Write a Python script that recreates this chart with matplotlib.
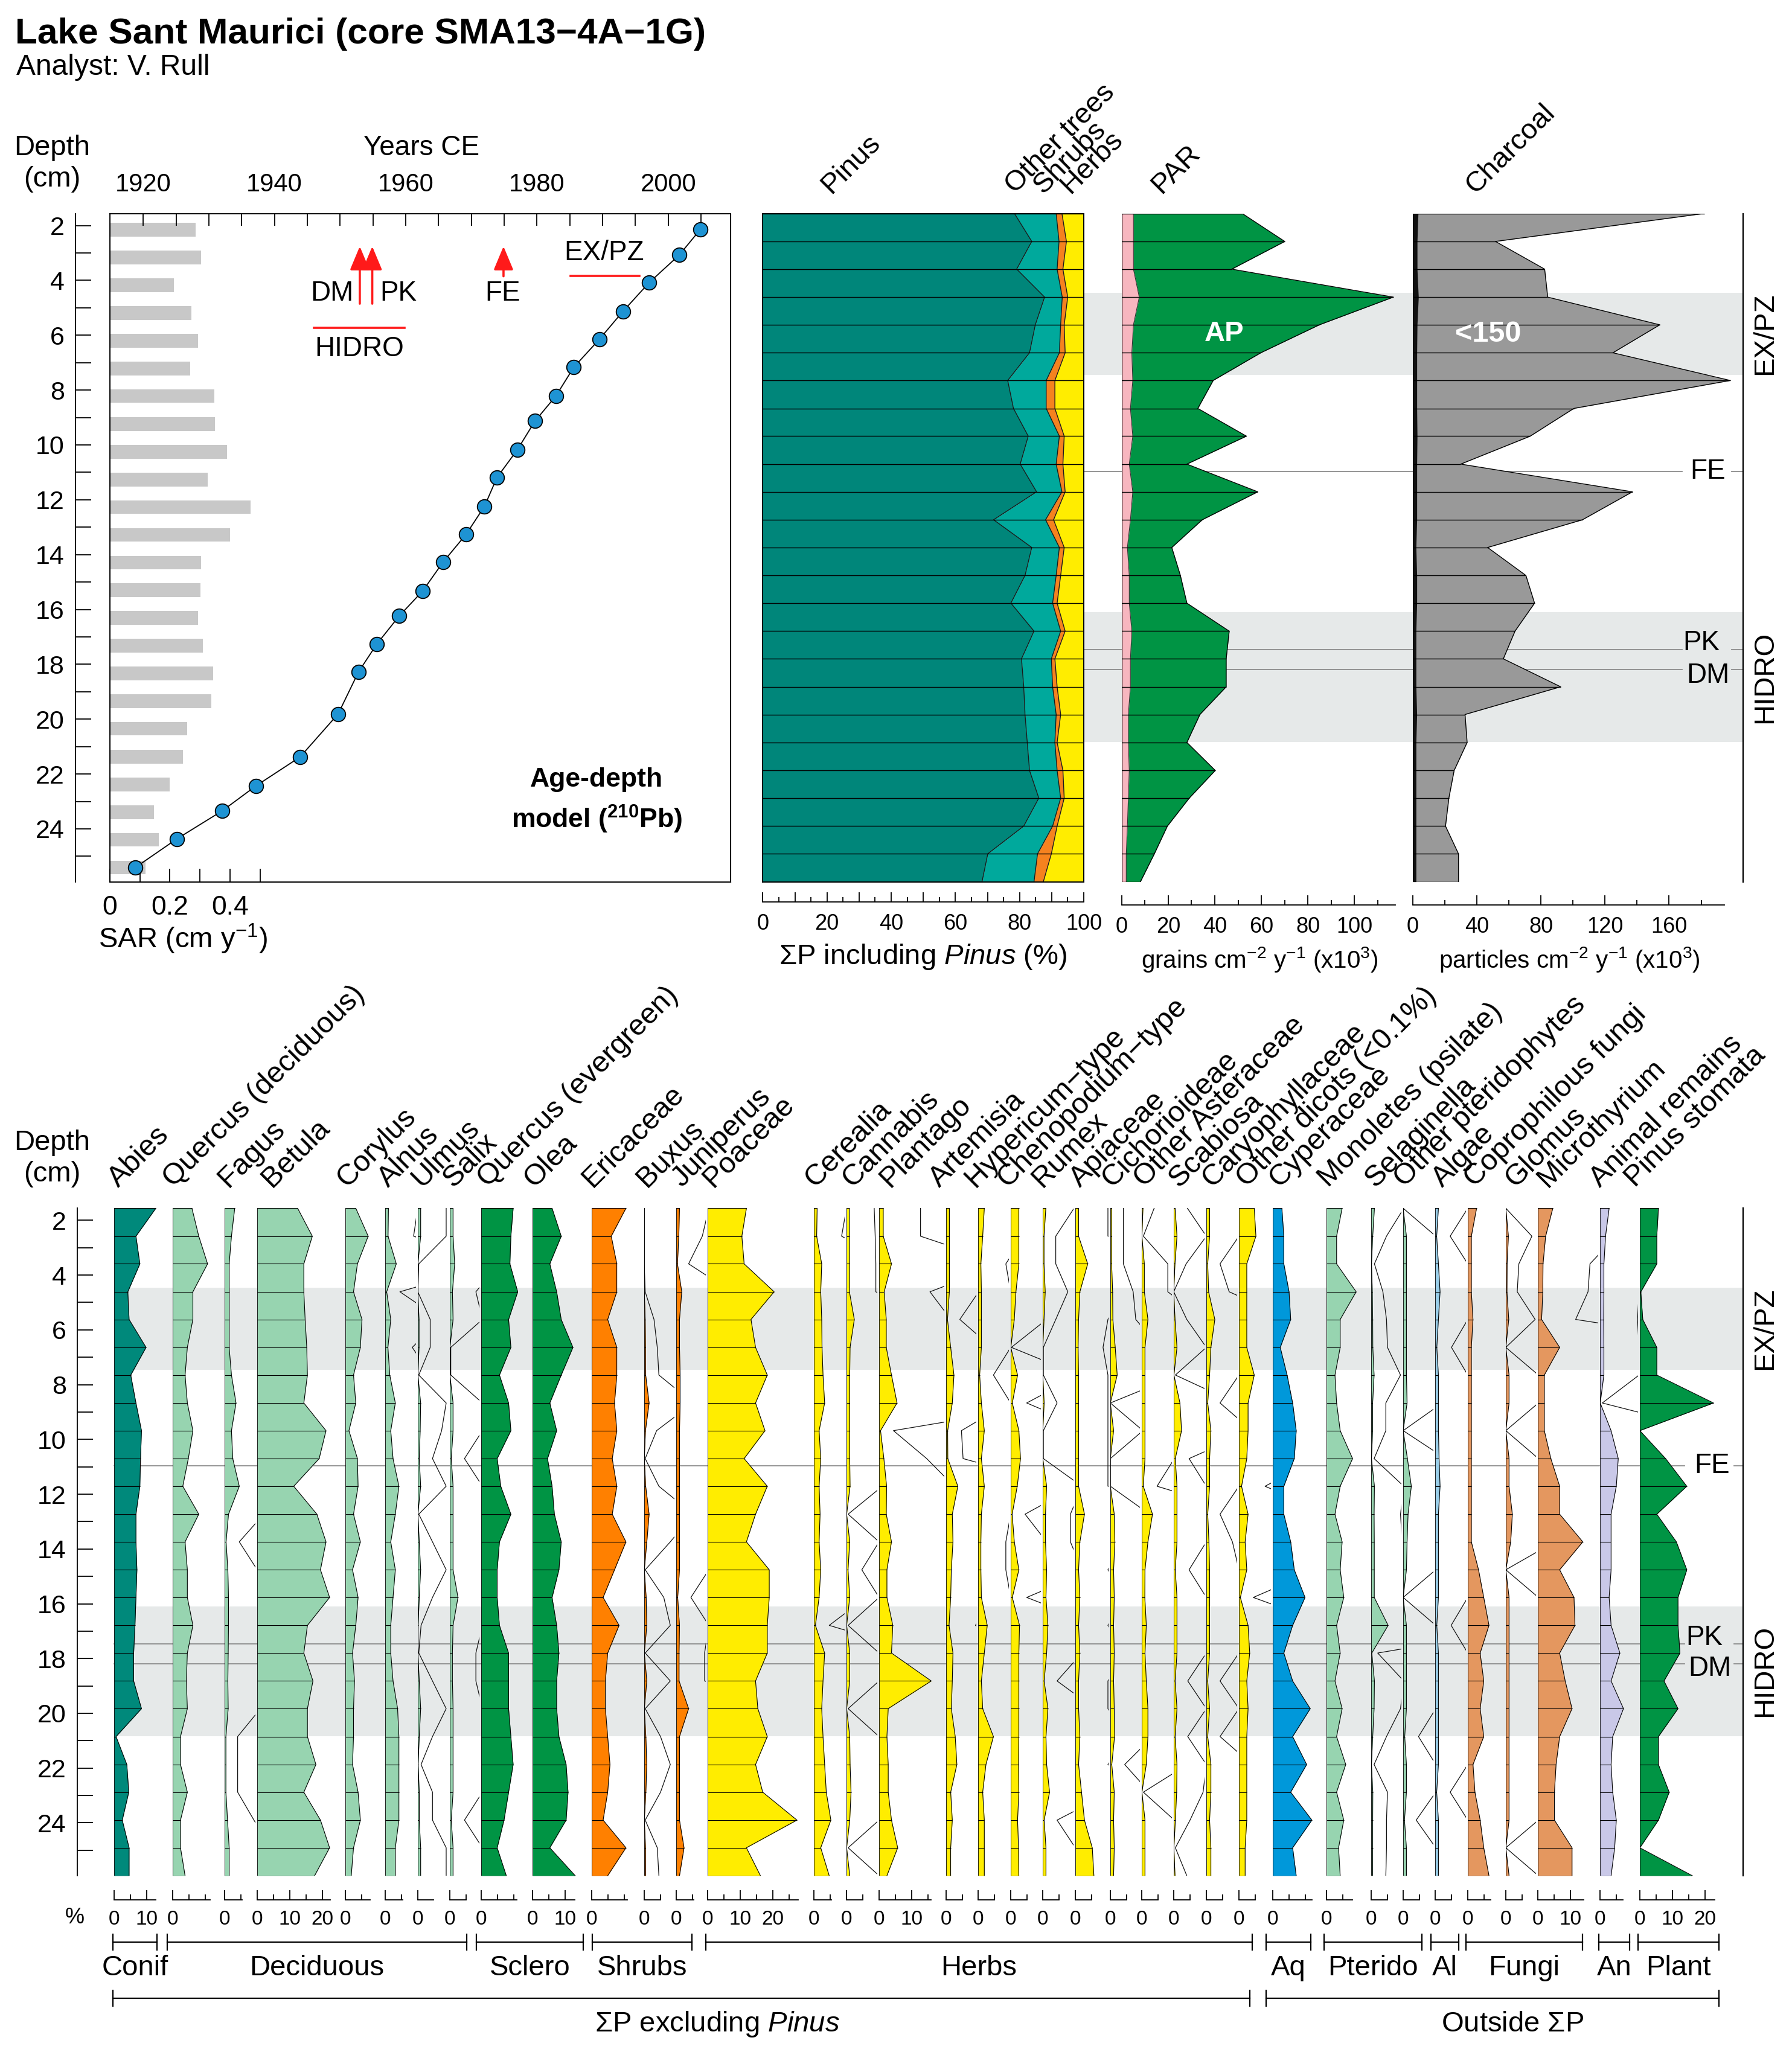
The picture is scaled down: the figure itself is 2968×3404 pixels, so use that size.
import numpy as np
import matplotlib
matplotlib.use("Agg")
import matplotlib.pyplot as plt

plt.rcParams["font.family"] = ["Liberation Sans", "DejaVu Sans"]
plt.rcParams["mathtext.fontset"] = "custom"
plt.rcParams["mathtext.rm"] = "Liberation Sans"
plt.rcParams["mathtext.it"] = "Liberation Sans:italic"
plt.rcParams["mathtext.bf"] = "Liberation Sans:bold"

# ============================== DATA ==============================
sample_depth = [1.56, 2.58, 3.59, 4.61, 5.62, 6.64, 7.65, 8.67, 9.68, 10.70,
                11.71, 12.73, 13.74, 14.76, 15.77, 16.79, 17.80, 18.82, 19.83,
                20.85, 21.87, 22.88, 23.90, 24.91, 25.93]

# age-depth model (210Pb)
dated_depth = [2.14, 3.07, 4.08, 5.13, 6.15, 7.17, 8.21, 9.13, 10.18, 11.19, 12.24,
               13.26, 14.27, 15.32, 16.24, 17.26, 18.28, 19.81, 21.38, 22.43, 23.35,
               24.37, 25.41]
dated_year = [2004.9, 2001.7, 1997.1, 1993.1, 1989.5, 1985.6, 1982.9, 1979.7, 1977.0,
              1973.9, 1972.0, 1969.2, 1965.7, 1962.6, 1959.0, 1955.6, 1952.8, 1949.7,
              1943.9, 1937.2, 1932.0, 1925.1, 1918.8]
sar_depth = [2.16, 3.17, 4.18, 5.19, 6.20, 7.21, 8.22, 9.24, 10.25, 11.26, 12.27, 13.28,
             14.29, 15.30, 16.31, 17.32, 18.33, 19.34, 20.35, 21.37, 22.38, 23.39, 24.40, 25.41]
sar = [0.285, 0.304, 0.214, 0.272, 0.294, 0.267, 0.347, 0.349, 0.389, 0.326, 0.469, 0.400,
       0.304, 0.301, 0.294, 0.309, 0.344, 0.338, 0.258, 0.243, 0.200, 0.146, 0.162, 0.118]

event_names = ["FE", "PK", "DM"]
event_year = [1974.9, 1954.9, 1953.0]
event_depth = [10.96, 17.47, 18.20]
hidro_years = [1946.0, 1959.8]
expz_years = [1985.1, 1995.6]
zone_names = ["EX/PZ", "HIDRO"]
zone_top = [4.45, 16.10]
zone_bottom = [7.45, 20.83]

# Sum P including Pinus (%)
pinus_pct = [78.4, 83.8, 79.1, 87.8, 84.9, 83.1, 76.3, 78.1, 82.7, 80.2, 85.3, 71.9, 83.8,
             81.7, 77.3, 84.5, 80.6, 81.3, 81.7, 82.4, 83.1, 86.0, 81.3, 70.1, 68.3]
other_trees_pct = [13.0, 8.5, 12.6, 5.5, 7.9, 9.3, 12.0, 10.2, 9.7, 11.2, 7.9, 16.2, 8.6,
                   9.7, 13.0, 8.3, 9.3, 9.0, 9.7, 8.6, 8.6, 6.8, 9.0, 15.5, 16.2]
shrubs_pct = [1.8, 2.3, 1.8, 1.7, 1.1, 1.8, 2.7, 2.7, 1.5, 2.1, 1.0, 2.5, 1.5, 1.4, 1.4,
              1.4, 1.1, 1.4, 1.4, 0.7, 1.8, 1.1, 1.4, 4.3, 2.9]
herbs_pct = [6.8, 5.4, 6.5, 5.0, 6.1, 5.8, 9.0, 9.0, 6.1, 6.5, 5.8, 9.4, 6.1, 7.2, 8.3,
             5.8, 9.0, 8.3, 7.2, 8.3, 6.5, 6.1, 8.3, 10.1, 12.6]

# PAR (grains cm-2 y-1 x10^3)
par_other = [5.0, 5.0, 5.0, 7.5, 5.0, 4.3, 4.7, 3.7, 4.7, 3.2, 4.7, 3.7, 2.4, 3.2, 3.2,
             4.3, 3.7, 3.7, 2.8, 2.8, 3.2, 2.8, 2.4, 1.9, 1.9]
par_ap = [46.8, 65.1, 42.3, 109.3, 80.0, 55.5, 34.6, 29.0, 48.9, 24.8, 53.8, 30.9, 19.1,
          22.0, 24.8, 41.9, 41.2, 41.2, 30.8, 25.2, 37.0, 26.2, 17.2, 12.1, 6.1]

# Charcoal (particles cm-2 y-1 x10^3)
charcoal_lt150 = [181.9, 51.6, 82.3, 84.2, 154.2, 124.9, 198.2, 100.5, 73.3, 29.9, 137.1,
                  105.9, 46.7, 70.6, 76.0, 63.8, 56.5, 92.3, 32.6, 33.9, 25.8, 22.5, 20.4,
                  28.5, 28.5]
charcoal_gt150 = [3.3, 2.7, 2.7, 3.5, 2.7, 2.5, 2.5, 2.5, 2.7, 2.5, 2.5, 2.5, 2.0, 2.5, 2.5,
                  2.0, 2.0, 2.0, 2.5, 2.0, 2.0, 2.0, 2.0, 2.0, 2.0]

# Taxa (%)
abies = [12.8, 6.7, 7.9, 4.2, 4.6, 9.8, 5.1, 6.7, 8.4, 8.1, 7.9, 6.7, 6.7, 7.0, 6.7, 6.4,
         6.0, 6.0, 8.4, 0.6, 3.9, 4.5, 2.5, 4.6, 4.6]
quercus_dec = [5.9, 8.0, 10.7, 6.2, 6.2, 4.5, 3.8, 4.5, 6.2, 4.8, 3.1, 8.0, 3.8, 4.5, 4.5,
               6.2, 4.5, 4.2, 4.5, 2.4, 2.4, 4.5, 2.4, 2.4, 3.8]
fagus = [3.1, 2.1, 1.4, 1.4, 1.4, 1.4, 2.1, 3.5, 2.1, 2.5, 4.5, 1.2, 0.45, 1.0, 1.2, 1.2,
         1.1, 1.0, 1.1, 0.4, 0.4, 0.4, 0.9, 1.4, 1.4]
betula = [12.4, 16.9, 14.3, 14.3, 14.7, 15.2, 15.4, 14.3, 21.1, 19.0, 11.2, 18.3, 21.1, 19.4,
          22.2, 15.4, 14.3, 17.1, 15.4, 15.4, 18.0, 14.3, 19.4, 22.2, 17.6]
corylus = [3.2, 7.0, 3.7, 2.5, 5.1, 4.6, 2.5, 3.2, 1.1, 3.7, 3.9, 2.5, 4.6, 2.2, 3.9, 3.2,
           2.2, 2.8, 2.5, 2.5, 2.2, 3.9, 4.6, 2.5, 1.8]
alnus = [1.0, 0.87, 3.4, 0.45, 1.7, 0.83, 1.4, 3.1, 1.7, 2.4, 4.2, 3.1, 1.7, 3.1, 2.4, 1.7,
         1.7, 2.4, 3.8, 4.2, 4.2, 4.2, 4.2, 3.1, 3.1]
ulmus = [0.87, 0.87, 0.03, 0.0, 0.38, 0.38, 0.03, 0.87, 0.73, 0.45, 0.87, 0.03, 0.45, 0.87,
         0.45, 0.1, 0.03, 0.45, 0.87, 0.45, 0.1, 0.45, 0.45, 0.87, 0.87]
salix = [1.0, 1.0, 1.5, 0.8, 1.0, 0.03, 0.03, 1.0, 1.0, 0.45, 1.0, 1.0, 1.0, 1.0, 2.5, 1.0,
         0.8, 0.8, 1.0, 1.0, 1.0, 1.0, 0.45, 1.0, 1.0]
quercus_ever = [9.8, 9.1, 8.8, 11.2, 8.4, 9.1, 5.6, 8.4, 9.1, 4.9, 6.0, 9.1, 5.6, 4.9, 4.9,
                5.6, 8.4, 8.4, 8.4, 9.1, 9.8, 8.4, 7.0, 4.9, 7.7]
olea = [6.0, 8.8, 5.3, 7.4, 8.8, 12.4, 8.8, 5.3, 7.4, 4.6, 6.0, 6.7, 8.8, 8.1, 6.0, 7.4, 8.1,
        7.4, 7.4, 8.1, 10.3, 10.9, 10.3, 5.3, 13.1]
ericaceae = [10.5, 6.0, 7.7, 7.7, 4.9, 7.7, 7.7, 7.0, 7.7, 6.3, 7.7, 6.3, 10.5, 7.0, 3.5, 8.4,
             4.9, 4.2, 4.2, 4.9, 5.6, 4.9, 3.5, 10.5, 4.9]
buxus = [0.0, 0.0, 0.0, 0.03, 0.3, 0.4, 0.45, 1.5, 0.38, 0.03, 0.45, 1.5, 0.8, 0.03, 0.6, 0.8,
         0.03, 0.8, 0.03, 0.5, 0.8, 0.5, 0.03, 0.4, 0.45]
juniperus = [1.0, 0.8, 0.38, 1.7, 1.0, 1.0, 1.2, 1.2, 1.0, 1.0, 1.0, 1.0, 1.0, 1.0, 0.45, 1.0,
             0.87, 0.87, 3.8, 1.0, 1.0, 1.0, 1.0, 2.4, 1.0]
poaceae = [11.9, 10.5, 11.2, 20.4, 13.3, 14.7, 18.3, 14.7, 17.6, 11.2, 18.3, 14.7, 11.9, 18.9,
           18.9, 18.3, 18.3, 14.7, 15.4, 18.3, 14.7, 16.9, 27.4, 11.9, 16.2]
cerealia = [1.0, 0.85, 2.4, 2.1, 2.4, 2.5, 2.8, 3.3, 1.6, 2.1, 1.6, 1.9, 1.6, 2.1, 1.6, 0.47,
            3.3, 2.8, 2.4, 2.8, 3.3, 3.8, 5.2, 2.1, 4.7]
cannabis = [0.85, 0.88, 0.9, 0.9, 2.4, 1.1, 1.0, 1.0, 1.0, 1.0, 1.1, 0.05, 1.0, 0.47, 1.0,
            0.05, 1.0, 1.0, 0.05, 1.0, 1.1, 1.4, 1.0, 0.05, 1.0]
plantago = [1.27, 1.27, 3.8, 1.56, 2.2, 2.2, 3.8, 5.5, 0.44, 1.46, 2.3, 2.2, 3.8, 2.4, 2.4,
            4.2, 3.8, 16.0, 2.8, 2.4, 2.8, 2.8, 3.8, 5.7, 2.4]
artemisia = [1.0, 1.0, 1.0, 1.0, 0.42, 1.4, 2.4, 1.9, 0.47, 0.52, 3.6, 1.9, 2.1, 1.6, 1.4, 0.9,
             2.1, 1.9, 1.6, 2.8, 3.3, 1.4, 1.9, 1.4, 1.4]
hypericum = [1.9, 1.4, 0.85, 1.0, 1.0, 1.0, 0.47, 1.0, 1.9, 1.0, 1.9, 1.0, 0.85, 0.85, 1.0,
             2.8, 1.9, 1.0, 1.4, 4.7, 2.4, 1.4, 1.9, 1.9, 1.9]
chenopodium = [2.5, 2.5, 2.5, 1.6, 1.1, 0.02, 2.1, 0.49, 2.5, 3.0, 2.0, 0.44, 1.1, 2.5, 0.49,
               2.7, 2.5, 2.5, 2.5, 2.5, 2.4, 2.5, 2.1, 2.4, 2.5]
rumex = [0.96, 0.4, 0.4, 0.77, 0.4, 0.02, 0.02, 0.44, 0.02, 0.02, 1.2, 0.85, 0.85, 1.2, 1.0,
         1.6, 1.2, 0.44, 1.6, 1.0, 1.2, 2.1, 0.44, 1.0, 1.0]
apiaceae = [1.0, 1.0, 3.8, 1.4, 1.0, 0.85, 1.0, 1.0, 1.0, 1.0, 1.0, 2.8, 1.4, 1.0, 1.4, 1.0,
            1.4, 1.0, 1.0, 1.4, 1.0, 1.9, 2.8, 5.2, 5.7]
cichorioideae = [0.4, 0.4, 0.4, 0.7, 0.78, 1.5, 2.1, 0.0, 1.0, 0.0, 0.0, 1.2, 1.4, 1.0, 1.2,
                 1.0, 1.2, 1.0, 1.2, 1.3, 0.44, 1.2, 1.0, 1.2, 1.0]
other_asteraceae = [0.38, 0.05, 0.8, 0.8, 1.9, 1.0, 1.0, 1.0, 1.0, 1.0, 0.47, 3.3, 1.9, 1.0,
                    0.95, 1.4, 1.0, 1.4, 1.9, 1.9, 1.4, 0.05, 1.0, 1.0, 1.0]
scabiosa = [0.42, 1.0, 0.38, 0.0, 0.4, 1.0, 0.05, 1.9, 2.4, 0.47, 1.0, 1.0, 1.0, 0.47, 1.0,
            1.0, 1.0, 0.43, 1.0, 0.43, 1.0, 0.9, 0.5, 0.05, 0.4]
caryophyllaceae = [1.0, 1.0, 0.42, 0.7, 2.6, 1.4, 1.0, 0.42, 1.4, 1.0, 1.0, 0.42, 0.8, 1.0,
                   1.0, 1.0, 1.0, 0.42, 1.0, 0.42, 1.4, 1.4, 1.0, 1.4, 1.4]
other_dicots = [4.7, 5.2, 2.4, 2.4, 2.4, 2.4, 4.7, 2.8, 2.8, 2.4, 0.8, 2.8, 1.9, 2.4, 0.44,
                2.8, 3.3, 2.4, 2.8, 2.4, 2.4, 2.4, 2.4, 1.9, 1.9]
cyperaceae = [2.8, 3.4, 3.4, 5.0, 5.5, 2.3, 4.4, 6.1, 7.2, 6.6, 3.4, 3.4, 5.5, 6.6, 9.9, 6.1,
              3.4, 6.1, 11.5, 6.1, 10.4, 5.5, 12.0, 6.1, 7.2]
monoletes = [4.8, 3.1, 3.1, 9.1, 4.2, 4.2, 2.6, 3.1, 4.2, 8.0, 4.2, 2.6, 4.8, 4.2, 5.3, 3.1,
             4.2, 2.6, 4.8, 3.1, 5.9, 3.1, 5.3, 3.7, 4.2]
selaginella = [1.0, 0.47, 0.1, 0.36, 0.47, 0.5, 0.9, 0.45, 0.45, 0.09, 1.0, 0.9, 0.95, 0.95,
               0.95, 5.2, 0.2, 1.0, 0.9, 0.47, 0.09, 0.5, 0.47, 0.47, 0.45]
other_pteridophytes = [0.0, 1.0, 1.0, 1.0, 1.0, 1.0, 1.0, 1.2, 0.0, 1.3, 2.5, 1.5, 1.2, 1.0,
                       0.0, 1.0, 1.0, 1.0, 1.0, 0.47, 1.0, 1.0, 0.4, 1.0, 1.0]
algae = [1.0, 0.46, 1.0, 1.5, 1.0, 0.5, 1.0, 1.0, 1.0, 1.2, 1.5, 1.0, 1.0, 1.0, 1.0, 0.49,
         1.0, 1.0, 1.0, 1.0, 1.0, 0.46, 1.0, 1.0, 1.0]
coprophilous = [2.7, 1.1, 1.1, 1.1, 1.6, 1.1, 1.1, 1.1, 1.1, 1.1, 1.1, 1.1, 1.1, 3.3, 4.9,
                6.5, 3.8, 4.9, 3.8, 4.9, 1.6, 2.2, 3.8, 4.9, 6.5]
glomus = [0.0, 0.8, 0.4, 0.35, 0.9, 0.0, 1.0, 1.0, 0.0, 1.0, 1.0, 2.0, 1.5, 0.0, 1.0, 1.0,
          1.0, 1.0, 1.0, 1.0, 1.0, 1.0, 1.0, 0.0, 1.0]
microthyrium = [4.6, 2.4, 1.6, 1.54, 1.16, 6.7, 2.0, 2.0, 2.0, 4.0, 6.7, 6.7, 13.8, 6.7, 11.1,
                11.4, 6.7, 8.4, 10.5, 6.7, 5.6, 5.1, 5.1, 10.5, 10.5]
animal_remains = [2.8, 1.7, 1.2, 1.2, 1.15, 1.2, 1.2, 0.07, 3.4, 5.6, 5.0, 3.4, 3.4, 3.4, 2.8,
                  3.4, 6.1, 3.4, 7.2, 3.9, 3.4, 3.9, 5.0, 4.5, 3.4]
pinus_stomata = [5.7, 5.2, 5.2, 0.3, 0.9, 5.2, 5.2, 22.6, 0.0, 7.9, 14.4, 5.2, 11.2, 14.4,
                 11.7, 11.7, 12.3, 7.4, 11.7, 5.7, 5.7, 9.0, 5.7, 0.0, 16.1]

taxa_names = ["Abies", "Quercus (deciduous)", "Fagus", "Betula", "Corylus", "Alnus", "Ulmus",
              "Salix", "Quercus (evergreen)", "Olea", "Ericaceae", "Buxus", "Juniperus",
              "Poaceae", "Cerealia", "Cannabis", "Plantago", "Artemisia", "Hypericum\u2212type",
              "Chenopodium\u2212type", "Rumex", "Apiaceae", "Cichorioideae", "Other Asteraceae",
              "Scabiosa", "Caryophyllaceae", "Other dicots (<0.1%)", "Cyperaceae",
              "Monoletes (psilate)", "Selaginella", "Other pteridophytes", "Algae",
              "Coprophilous fungi", "Glomus", "Microthyrium", "Animal remains", "Pinus stomata"]
taxa_values = [abies, quercus_dec, fagus, betula, corylus, alnus, ulmus, salix, quercus_ever,
               olea, ericaceae, buxus, juniperus, poaceae, cerealia, cannabis, plantago,
               artemisia, hypericum, chenopodium, rumex, apiaceae, cichorioideae,
               other_asteraceae, scabiosa, caryophyllaceae, other_dicots, cyperaceae,
               monoletes, selaginella, other_pteridophytes, algae, coprophilous, glomus,
               microthyrium, animal_remains, pinus_stomata]
group_names = ["Conif", "Deciduous", "Sclero", "Shrubs", "Herbs", "Aq", "Pterido", "Al",
               "Fungi", "An", "Plant"]
scale_labels = [[0, 10], [0], [0], [0, 10, 20], [0], [0], [0], [0], [0], [0, 10], [0], [0], [0],
                [0, 10, 20], [0], [0], [0, 10], [0], [0], [0], [0], [0], [0], [0], [0], [0], [0],
                [0], [0], [0], [0], [0], [0], [0], [0, 10], [0], [0, 10, 20]]

# ============================== LAYOUT / STYLE ==============================
W, H = 2968, 3404
fig = plt.figure(figsize=(W / 100, H / 100), dpi=100)
PT = 0.72
TOP = (353.6, 1460.6)
BOT = (2001.4, 3107.0)
DLIM = (25.93, 1.56)
PXP = 5.4  # pixels per percent in the taxa columns

def rect(x0, y0, x1, y1):
    return [x0 / W, 1 - y1 / H, (x1 - x0) / W, (y1 - y0) / H]

def fx(x):
    return x / W

def fy(y):
    return 1 - y / H

def clean(ax):
    ax.patch.set_visible(False)
    for s in ax.spines.values():
        s.set_visible(False)
    ax.set_xticks([])
    ax.set_yticks([])

d = np.array(sample_depth)

# ---------------- background: zones + events ----------------
def background(x0, x1, y0, y1, gap, lab_x, lab_off):
    ax = fig.add_axes(rect(x0, y0, x1, y1), zorder=-1)
    clean(ax)
    ax.set_xlim(x0, x1)
    ax.set_ylim(*DLIM)
    for zt, zb, zn in zip(zone_top, zone_bottom, zone_names):
        ax.axhspan(zt, zb, color="#E6E9E9", lw=0, zorder=0)
        ax.text(2923, (zt + zb) / 2, zn, rotation=90, ha="center", va="center",
                fontsize=34, clip_on=False)
    for nm, ed, lx, lo in zip(event_names, event_depth, lab_x, lab_off):
        ax.plot([x0, gap[0]], [ed, ed], color="#8C8C8C", lw=1.3, zorder=1)
        ax.plot([gap[1], x1], [ed, ed], color="#8C8C8C", lw=1.3, zorder=1)
        ax.text(lx, ed + lo, nm, ha="center", va="center", fontsize=33, clip_on=False)
    ax.plot([x1, x1], [DLIM[1], DLIM[0]], color="k", lw=1.6, clip_on=False)
    return ax

background(1796, 2887, TOP[0], TOP[1], (2786, 2868), [2829, 2818, 2829], [0.0, -0.25, 0.22])
background(188, 2887, BOT[0], BOT[1], (2790, 2872), [2836, 2823, 2832], [0.0, -0.22, 0.18])

# ---------------- depth axes ----------------
def depth_axis(x, y0, y1):
    ax = fig.add_axes(rect(x, y0, x + 26, y1))
    ax.patch.set_visible(False)
    ax.set_ylim(*DLIM)
    ax.set_xticks([])
    for s in ("top", "right", "bottom"):
        ax.spines[s].set_visible(False)
    ax.spines["left"].set_linewidth(1.3)
    ax.set_yticks(range(2, 25, 2))
    ax.set_yticks(range(3, 26, 2), minor=True)
    ax.tick_params(axis="y", which="both", direction="in", length=26 * PT, width=1.3,
                   labelsize=31, pad=13)
    return ax

depth_axis(125, TOP[0], TOP[1])
depth_axis(128, BOT[0], BOT[1])

# ---------------- age-depth panel ----------------
ax_sar = fig.add_axes(rect(181.8, TOP[0], 1210, TOP[1]))
ax_sar.set_ylim(*DLIM)
ax_sar.set_xlim(0, 2.064)
ax_sar.barh(sar_depth, sar, height=0.5, color="#C8C8C8", lw=0, zorder=1)
ax_sar.set_yticks([])
ax_sar.set_xticks([0, 0.1, 0.2, 0.3, 0.4, 0.5])
ax_sar.set_xticklabels(["0", "", "0.2", "", "0.4", ""])
ax_sar.tick_params(axis="x", direction="in", length=22 * PT, width=1.3, labelsize=32, pad=16)
for s in ax_sar.spines.values():
    s.set_linewidth(1.3)

ax_age = ax_sar.twiny()
ax_age.set_xlim(1914.9, 2009.5)
yrs = list(range(1920, 2006, 5))
ax_age.set_xticks(yrs)
ax_age.set_xticklabels([str(y) if y % 20 == 0 else "" for y in yrs])
ax_age.tick_params(axis="x", direction="in", length=20 * PT, width=1.3, labelsize=30, pad=20)
ax_age.plot(dated_year, dated_depth, "-", color="k", lw=1.3, zorder=3)
ax_age.plot(dated_year, dated_depth, "o", ms=17, mfc="#1E93D3", mec="k", mew=1.3,
            zorder=4, clip_on=False)

arrow_style = dict(arrowstyle="-|>,head_length=0.6,head_width=0.25", color="#FF1A1A",
                   lw=2.6, mutation_scale=40, shrinkA=0, shrinkB=0)
for nm, yr in zip(event_names, event_year):
    tail = 3.85 if nm == "FE" else 4.85
    ax_age.annotate("", xy=(yr, 2.76), xytext=(yr, tail), arrowprops=arrow_style)
ax_age.text(1948.8, 4.48, "DM", ha="center", va="center", fontsize=33)
ax_age.text(1958.9, 4.48, "PK", ha="center", va="center", fontsize=33)
ax_age.text(1974.8, 4.48, "FE", ha="center", va="center", fontsize=33)
ax_age.plot(hidro_years, [5.73, 5.73], color="#FF1A1A", lw=2.6)
ax_age.text(np.mean(hidro_years), 6.5, "HIDRO", ha="center", va="center", fontsize=33)
ax_age.plot(expz_years, [3.83, 3.83], color="#FF1A1A", lw=2.6)
ax_age.text(1990.2, 3.0, "EX/PZ", ha="center", va="center", fontsize=33)
ax_age.text(1989.1, 22.2, "Age-depth", ha="center", va="center", fontsize=32,
            fontweight="bold")
ax_age.text(1989.1, 23.65, r"model ($^{\mathbf{210}}$Pb)", ha="center", va="center",
            fontsize=32, fontweight="bold")

# ---------------- scale axis helper ----------------
def scale_axis(x0, px_per_unit, y, vmax, major, minor, labels, fs, pad, lmaj, lmin):
    x1 = x0 + vmax * px_per_unit
    ax = fig.add_axes(rect(x0, y - 20, x1, y))
    ax.patch.set_visible(False)
    ax.set_xlim(0, vmax)
    ax.set_yticks([])
    for s in ("top", "left", "right"):
        ax.spines[s].set_visible(False)
    ax.spines["bottom"].set_linewidth(1.3)
    ax.set_xticks(major)
    ax.set_xticklabels([str(m) if m in labels else "" for m in major])
    ax.set_xticks(minor, minor=True)
    ax.tick_params(axis="x", which="major", direction="in", length=lmaj * PT, width=1.3,
                   labelsize=fs, pad=pad)
    ax.tick_params(axis="x", which="minor", direction="in", length=lmin * PT, width=1.3)
    return ax

# ---------------- Sum P including Pinus ----------------
ax_p = fig.add_axes(rect(1263.4, TOP[0], 1795, TOP[1]))
ax_p.patch.set_visible(False)
ax_p.set_xlim(0, 100)
ax_p.set_ylim(*DLIM)
ax_p.set_xticks([])
ax_p.set_yticks([])
for s in ax_p.spines.values():
    s.set_linewidth(1.4)
cum = np.cumsum([pinus_pct, other_trees_pct, shrubs_pct, herbs_pct], axis=0)
stack_cols = ["#00867A", "#00A99C", "#F5821F", "#FFED00"]
left = np.zeros(len(d))
for layer, c in zip(cum, stack_cols):
    ax_p.fill_betweenx(d, left, layer, color=c, lw=0, zorder=1)
    left = layer
for layer in cum[:3]:
    ax_p.plot(layer, d, color="#1A1A1A", lw=1.0, zorder=2)
ax_p.hlines(d, 0, cum[3], color="k", lw=1.0, zorder=2)
scale_axis(1263.4, 5.316, 1494, 100, list(range(0, 101, 10)), list(range(5, 100, 10)),
           [0, 20, 40, 60, 80, 100], 26, 14, 16, 8)

# ---------------- PAR ----------------
ax_par = fig.add_axes(rect(1858, TOP[0], 2330, TOP[1]))
clean(ax_par)
ax_par.set_xlim(0, 472 / 3.85)
ax_par.set_ylim(*DLIM)
p_other = np.array(par_other)
p_tot = p_other + np.array(par_ap)
ax_par.fill_betweenx(d, 0, p_other, color="#F7B6BF", lw=0, zorder=1)
ax_par.fill_betweenx(d, p_other, p_tot, color="#009444", lw=0, zorder=1)
ax_par.plot(p_other, d, color="#333333", lw=0.8, zorder=2)
ax_par.plot(p_tot, d, color="k", lw=1.0, zorder=2)
ax_par.hlines(d, 0, p_tot, color="k", lw=1.0, zorder=2)
ax_par.plot(np.zeros(len(d)), d, color="k", lw=1.4, zorder=3)
ax_par.text(44, 5.95, "AP", color="white", fontsize=34, fontweight="bold",
            ha="center", va="center", zorder=4)
scale_axis(1858, 3.85, 1499, 117.7, list(range(0, 101, 20)), list(range(10, 111, 10)),
           [0, 20, 40, 60, 80, 100], 26, 14, 16, 8)

# ---------------- Charcoal ----------------
ax_ch = fig.add_axes(rect(2340, TOP[0], 2880, TOP[1]))
clean(ax_ch)
ax_ch.set_xlim(0, 540 / 2.653)
ax_ch.set_ylim(*DLIM)
ch_small = np.array(charcoal_lt150)
ch_big = np.array(charcoal_gt150)
ax_ch.fill_betweenx(d, 0, ch_small, color="#999999", lw=0, zorder=1)
ax_ch.fill_betweenx(d, 0, ch_big, color="#111111", lw=0, zorder=2)
ax_ch.plot(ch_small, d, color="k", lw=1.0, zorder=3)
ax_ch.hlines(d, 0, ch_small, color="k", lw=1.0, zorder=3)
ax_ch.plot(np.zeros(len(d)), d, color="k", lw=1.4, zorder=3)
ax_ch.text(47, 5.95, "<150", color="white", fontsize=35, fontweight="bold",
           ha="center", va="center", zorder=4)
scale_axis(2340, 2.653, 1499, 194.5, list(range(0, 161, 40)), list(range(20, 195, 20)),
           [0, 40, 80, 120, 160], 26, 14, 16, 8)

# ---------------- taxa columns ----------------
col_x = [189, 286, 372, 426, 572, 638, 692, 745, 797, 882, 980, 1067, 1120, 1172, 1348, 1402,
         1456, 1567, 1620, 1674, 1727, 1781, 1839, 1891, 1944, 1998, 2052, 2108, 2197, 2271,
         2324, 2377, 2431, 2494, 2547, 2650, 2716]
label_x = [196, 287, 378, 450, 574, 643, 698, 751, 808, 885, 981, 1071, 1129, 1181, 1349, 1411,
           1474, 1556, 1615, 1668, 1726, 1789, 1842, 1895, 1953, 2007, 2065, 2118, 2200, 2278,
           2326, 2389, 2442, 2510, 2563, 2650, 2708]
scale_max = [12.8, 11.5, 5.3, 22.4, 7.6, 5.3, 4.8, 5, 11, 13, 11, 5, 5.3, 27.8, 5.3, 5, 16,
             5, 5, 5, 5, 5, 5, 5, 5, 5, 5, 12, 8, 5, 5, 5, 7, 5, 14, 7, 23]
teal, pale, dkg, ora, yel = "#00897B", "#97D4B0", "#009444", "#FF8000", "#FFED00"
blue, ltb, tan, lav = "#0098DA", "#9ACFEA", "#E4975F", "#C9C8E8"
col_color = [teal, pale, pale, pale, pale, pale, pale, pale, dkg, dkg, ora, ora, ora] + \
            [yel] * 14 + [blue, pale, pale, pale, ltb, tan, tan, tan, lav, dkg]
col_exag = [False, False, True, False, False, True, True, True, False, False, False, True,
            True, False] + [True] * 13 + [False, False, True, True, True, False, True, True,
                                          True, False]

for i, vals in enumerate(taxa_values):
    x0 = col_x[i]
    x1 = col_x[i + 1] - 3 if i + 1 < len(col_x) else 2860
    ax = fig.add_axes(rect(x0, BOT[0], x1, BOT[1]))
    clean(ax)
    ax.set_xlim(0, (x1 - x0) / PXP)
    ax.set_ylim(*DLIM)
    v = np.array(vals, dtype=float)
    ax.fill_betweenx(d, 0, v, color=col_color[i], lw=0, zorder=2)
    ax.plot(v, d, color="k", lw=0.8, zorder=3)
    ax.hlines(d, 0, v, color="k", lw=0.8, zorder=3)
    ax.plot(np.zeros(len(d)), d, color="k", lw=1.2, zorder=4)
    if col_exag[i]:
        ax.plot(v * 10, d, color="#111111", lw=0.9, zorder=1)
    # scale bar
    smax = scale_max[i]
    major = [m for m in scale_labels[i]]
    minor = [m for m in range(5, int(smax) + 1, 5) if m not in major]
    scale_axis(x0, PXP, 3147, smax, major, minor, scale_labels[i], 24, 12, 16, 9)
    fig.text(fx(label_x[i]), fy(1968), taxa_names[i], rotation=45, rotation_mode="anchor",
             ha="left", va="baseline", fontsize=35)

# ---------------- overlay: brackets & labels ----------------
ov = fig.add_axes([0, 0, 1, 1], zorder=20)
ov.set_xlim(0, W)
ov.set_ylim(H, 0)
ov.axis("off")
ov.patch.set_visible(False)

group_extent = [(187, 260), (277, 773), (789, 966), (981, 1146), (1169, 2074), (2097, 2171),
                (2193, 2355), (2370, 2416), (2428, 2621), (2648, 2699), (2713, 2847)]

def bracket(x0, x1, y, cap=13):
    ov.plot([x0, x1], [y, y], color="k", lw=1.6)
    ov.plot([x0, x0], [y - cap, y + cap], color="k", lw=1.6)
    ov.plot([x1, x1], [y - cap, y + cap], color="k", lw=1.6)

for gname, (gx0, gx1) in zip(group_names, group_extent):
    bracket(gx0, gx1, 3217)
    ov.text((gx0 + gx1) / 2, 3260, gname, ha="center", va="center", fontsize=34)
bracket(187, 2070, 3310)
bracket(2097, 2847, 3310)
ov.text(1188, 3353, r"$\Sigma$P excluding $\mathit{Pinus}$", ha="center", va="center",
        fontsize=34)
ov.text(2505, 3353, r"Outside $\Sigma$P", ha="center", va="center", fontsize=34)
ov.text(124, 3177, "%", ha="center", va="center", fontsize=26)

# ---------------- titles & labels ----------------
fig.text(fx(25), fy(72), "Lake Sant Maurici (core SMA13\u22124A\u22121G)", fontsize=43.5,
         fontweight="bold", ha="left", va="baseline")
fig.text(fx(27), fy(124), "Analyst: V. Rull", fontsize=34.5, ha="left", va="baseline")
for yy in (245, 1893):
    fig.text(fx(86), fy(yy), "Depth", fontsize=34, ha="center", va="center")
    fig.text(fx(86), fy(yy + 52), "(cm)", fontsize=34, ha="center", va="center")
fig.text(fx(698), fy(245), "Years CE", fontsize=33, ha="center", va="center")
fig.text(fx(303), fy(1555), r"SAR (cm y$^{-1}$)", fontsize=34, ha="center", va="center")
fig.text(fx(1529), fy(1585), r"$\Sigma$P including $\mathit{Pinus}$ (%)", fontsize=34,
         ha="center", va="center")
fig.text(fx(2086), fy(1590), r"grains cm$^{-2}$ y$^{-1}$ (x10$^{3}$)", fontsize=29,
         ha="center", va="center")
fig.text(fx(2599), fy(1590), r"particles cm$^{-2}$ y$^{-1}$ (x10$^{3}$)", fontsize=29,
         ha="center", va="center")

top_labels = ["Pinus", "Other trees", "Shrubs", "Herbs", "PAR", "Charcoal"]
top_label_x = [1376, 1681, 1728, 1772, 1923, 2444]
for nm, lx in zip(top_labels, top_label_x):
    fig.text(fx(lx), fy(322), nm, rotation=45, rotation_mode="anchor", ha="left",
             va="baseline", fontsize=34)

fig.savefig("out.png", dpi=100)
